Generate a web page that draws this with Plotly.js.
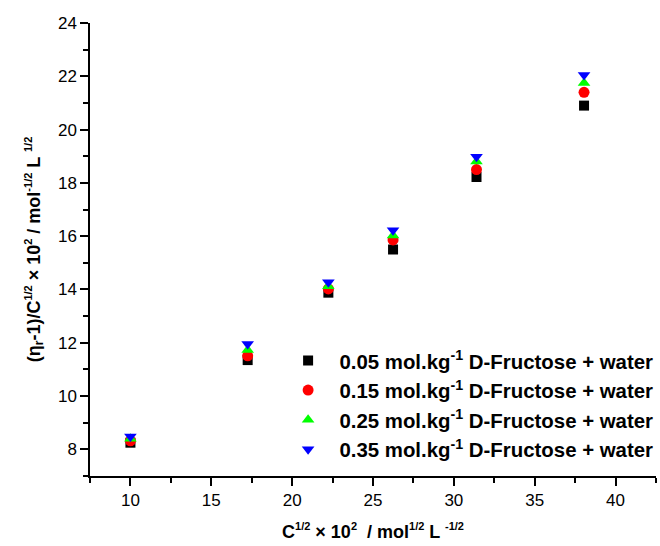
<!DOCTYPE html>
<html>
<head>
<meta charset="utf-8">
<script src="https://cdn.plot.ly/plotly-3.0.1.min.js"></script>
<style>body{margin:0;padding:0;background:#fff}#chart{width:660px;height:546px}</style>
</head>
<body>
<div id="chart"></div>
<script>
// x values: C^1/2 x 10^2
const xValues = [10.0, 17.25, 22.24, 26.24, 31.4, 38.05];
// series values
const y005 = [8.25, 11.35, 13.88, 15.5, 18.22, 20.9];
const y015 = [8.32, 11.51, 14.02, 15.86, 18.5, 21.4];
const y025 = [8.4, 11.73, 14.12, 16.03, 18.8, 21.75];
const y035 = [8.48, 11.95, 14.27, 16.22, 18.98, 22.05];
const seriesNames = [
  "&nbsp;&nbsp;0.05 mol.kg<sup>-1</sup> D-Fructose + water",
  "&nbsp;&nbsp;0.15 mol.kg<sup>-1</sup> D-Fructose + water",
  "&nbsp;&nbsp;0.25 mol.kg<sup>-1</sup> D-Fructose + water",
  "&nbsp;&nbsp;0.35 mol.kg<sup>-1</sup> D-Fructose + water"
];
const seriesY = [y005, y015, y025, y035];
const colors = ["#000000", "#ff0000", "#00ff00", "#0000ff"];
const symbols = ["square", "circle", "triangle-up", "triangle-down"];
const sizes = [10, 11, 11, 11];
const xTickVals = [10, 15, 20, 25, 30, 35, 40];
const yTickVals = [8, 10, 12, 14, 16, 18, 20, 22, 24];

const sp = (t) => '<sup><span style="font-size:11px">' + t + '</span></sup>';
const sb = (t) => '<sub><span style="font-size:12px">' + t + '</span></sub>';
const xTitle = "<b>C" + sp("1/2") + " × 10" + sp("2") + "  / mol" + sp("1/2") + " L " + sp("-1/2") + "</b>";
const yTitle = "<b>(η" + sb("r") + "-1)/C" + sp("1/2") + " × 10" + sp("2") + " / mol" + sp("-1/2") + " L " + sp("1/2") + "</b>";

const traces = seriesY.map((ys, i) => ({
  x: xValues, y: ys, type: "scatter", mode: "markers", name: seriesNames[i],
  marker: {symbol: symbols[i], color: colors[i], size: sizes[i], line: {width: 0}}
}));

const font = "Liberation Sans, Arial, sans-serif";
const layout = {
  width: 660, height: 546,
  margin: {l: 90, r: 2, t: 23, b: 70},
  paper_bgcolor: "#fff", plot_bgcolor: "#fff",
  font: {family: font, size: 17, color: "#000"},
  showlegend: true,
  legend: {
    x: 0.35, xanchor: "left", y: 0.156, yanchor: "middle",
    font: {family: font, size: 20.4, color: "#000", weight: "bold"},
    bgcolor: "rgba(0,0,0,0)", itemsizing: "trace", borderwidth: 0
  },
  xaxis: {
    range: [7.5, 42.5], showgrid: false, zeroline: false,
    showline: true, linecolor: "#000", linewidth: 1.5, mirror: false,
    ticks: "outside", ticklen: 8, tickwidth: 1.5, tickcolor: "#000",
    tickvals: xTickVals,
    minor: {dtick: 2.5, tick0: 0, ticks: "outside", ticklen: 5, tickwidth: 1.5, tickcolor: "#000", showgrid: false},
    tickfont: {family: font, size: 17},
    title: {text: xTitle, font: {family: font, size: 18}, standoff: 16}
  },
  yaxis: {
    range: [7, 24], showgrid: false, zeroline: false,
    showline: true, linecolor: "#000", linewidth: 1.5, mirror: false,
    ticks: "outside", ticklen: 8, tickwidth: 1.5, tickcolor: "#000",
    tickvals: yTickVals,
    minor: {dtick: 1, tick0: 0, ticks: "outside", ticklen: 5, tickwidth: 1.5, tickcolor: "#000", showgrid: false},
    tickfont: {family: font, size: 17},
    title: {text: yTitle, font: {family: font, size: 18}, standoff: 13}
  }
};
Plotly.newPlot("chart", traces, layout, {displayModeBar: false, responsive: false});
</script>
</body>
</html>
